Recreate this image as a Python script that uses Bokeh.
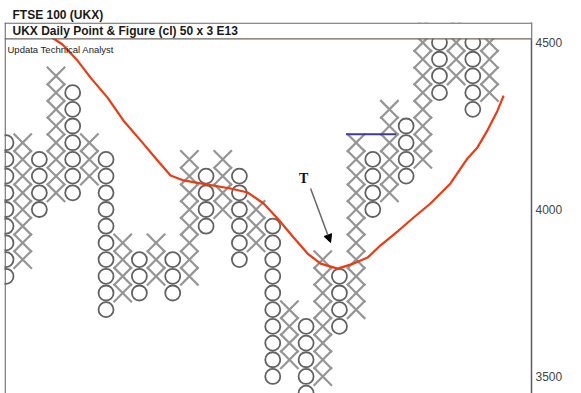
import numpy as np
from bokeh.plotting import figure
from bokeh.models import Range1d, LinearAxis, FixedTicker, Label, BoxAnnotation, Arrow, NormalHead
from bokeh.embed import file_html
from bokeh.resources import INLINE

# ---------------- data ----------------
BOX = 50
col_type = ["O", "X", "O", "X", "O", "X", "O", "X", "O", "X",
            "O", "X", "O", "X", "O", "X", "O", "X", "O", "X",
            "O", "X", "O", "X", "O", "X", "O", "X", "O", "X"]
col_low = [3800, 3850, 4000, 4050, 4050, 4100, 3700, 3750, 3750, 3800,
           3750, 3800, 3950, 4000, 3850, 3900, 3500, 3550, 3450, 3500,
           3650, 3700, 4000, 4050, 4100, 4150, 4350, 4400, 4300, 4350]
col_high = [4200, 4200, 4150, 4400, 4350, 4200, 4150, 3900, 3850, 3900,
            3850, 4150, 4100, 4150, 4100, 4000, 3950, 3700, 3650, 3850,
            3800, 4200, 4150, 4300, 4250, 4550, 4500, 4550, 4500, 4500]

# moving average (column position, price)
ma_col = [2.67, 3.39, 4.29, 5.07, 6.09, 7.05, 8.07, 9.09, 9.87, 10.65, 11.67,
          13.47, 14.49, 15.45, 16.29, 17.25, 18.09, 18.87, 19.89, 20.85, 21.69,
          22.45, 23.55, 24.45, 25.46, 26.66, 27.68, 28.28, 28.88, 29.48, 29.85]
ma_price = [4518, 4494, 4446, 4395, 4335, 4266, 4207, 4147, 4102, 4087, 4078,
            4063, 4051, 4018, 3973, 3916, 3868, 3838, 3823, 3838, 3856,
            3892, 3937, 3976, 4018, 4078, 4153, 4186, 4237, 4296, 4341]

# horizontal trend line
trend_col = [20.4, 23.4]
trend_price = [4225, 4225]

# "T" annotation and arrow
t_col, t_price = 17.85, 4093
arrow_col = [18.27, 19.47]
arrow_price = [4063, 3901]

tick_values = [3500, 4000, 4500]

title_text = "FTSE 100 (UKX)"
header_text = "UKX Daily Point & Figure (cl) 50 x 3 E13"
source_text = "Updata Technical Analyst"

# ---------------- build marks from the data ----------------
xs_x0, xs_y0, xs_x1, xs_y1 = [], [], [], []
os_c, os_p = [], []
hw = 0.55
for i, (t, lo, hi) in enumerate(zip(col_type, col_low, col_high)):
    levels = np.arange(lo, hi + BOX, BOX)
    for lv in levels:
        if t == "X":
            xs_x0 += [i - hw, i - hw]
            xs_y0 += [lv - hw * BOX, lv + hw * BOX]
            xs_x1 += [i + hw, i + hw]
            xs_y1 += [lv + hw * BOX, lv - hw * BOX]
        else:
            os_c.append(i)
            os_p.append(lv)

W, H = 581, 393
BL, BT = 4, 22
FRAME_W = 527
FRAME_H = H - BT

p = figure(width=W, height=H, output_backend="svg", toolbar_location=None,
           x_range=Range1d(-0.09, 31.52), y_range=Range1d(3449, 4560),
           x_axis_location=None, y_axis_location=None,
           min_border_left=BL, min_border_right=W - FRAME_W - BL,
           min_border_top=BT, min_border_bottom=0,
           background_fill_color="white", border_fill_color="white",
           outline_line_color=None)
p.xgrid.visible = False
p.ygrid.visible = False

p.title.text = title_text
p.title.text_font = "Liberation Sans"
p.title.text_font_size = "12px"
p.title.text_font_style = "bold"
p.title.text_color = "#1a1a1a"
p.title.align = "left"
p.title.offset = 8
p.title.standoff = 2

p.segment(xs_x0, xs_y0, xs_x1, xs_y1, line_color="#959595", line_width=2.2)
p.scatter(os_c, os_p, marker="circle", size=15, fill_color=None,
          line_color="#626262", line_width=1.8)

p.line(trend_col, trend_price, line_color="#3c3c96", line_width=2)
p.line(ma_col, ma_price, line_color="#ee3a10", line_width=2.2)

p.add_layout(Arrow(end=NormalHead(size=8, fill_color="black", line_color="black"),
                   x_start=arrow_col[0], y_start=arrow_price[0],
                   x_end=arrow_col[1], y_end=arrow_price[1],
                   line_color="#666666", line_width=1.5))
p.add_layout(Label(x=t_col, y=t_price, text="T", text_font="Liberation Serif",
                   text_font_style="bold", text_font_size="14px",
                   text_align="center", text_baseline="middle", text_color="#111111"))

ax = LinearAxis(ticker=FixedTicker(ticks=tick_values),
                major_tick_line_color=None, minor_tick_line_color=None,
                major_tick_out=0, major_tick_in=0,
                major_label_text_font="Liberation Sans",
                major_label_text_font_size="12px",
                major_label_text_color="#444444",
                major_label_standoff=4,
                axis_line_color="#5a5a6a", axis_line_width=1.5)
p.add_layout(ax, "right")

scr = dict(left_units="screen", right_units="screen",
           bottom_units="screen", top_units="screen")
# header band (white), borders
p.add_layout(BoxAnnotation(left=0, right=FRAME_W, bottom=FRAME_H - 16, top=FRAME_H,
                           fill_color="white", fill_alpha=1, line_color=None, **scr))
p.add_layout(BoxAnnotation(left=0, right=FRAME_W, bottom=FRAME_H - 17, top=FRAME_H - 15.8,
                           fill_color="#6e6660", fill_alpha=1, line_color=None, **scr))
p.add_layout(BoxAnnotation(left=0, right=FRAME_W, bottom=FRAME_H - 1.2, top=FRAME_H,
                           fill_color="#6e6660", fill_alpha=1, line_color=None, **scr))
p.add_layout(BoxAnnotation(left=0, right=1.3, bottom=0, top=FRAME_H,
                           fill_color="#6e6660", fill_alpha=1, line_color=None, **scr))

p.add_layout(Label(x=8, y=FRAME_H - 8.5, x_units="screen", y_units="screen",
                   text=header_text, text_font="Liberation Sans", text_font_style="bold",
                   text_font_size="12px", text_baseline="middle", text_color="#1a1a1a"))
p.add_layout(Label(x=3, y=FRAME_H - 27, x_units="screen", y_units="screen",
                   text=source_text, text_font="Liberation Sans",
                   text_font_size="9.5px", text_baseline="middle", text_color="#222222"))

open("out.html", "w").write(file_html(p, INLINE))
